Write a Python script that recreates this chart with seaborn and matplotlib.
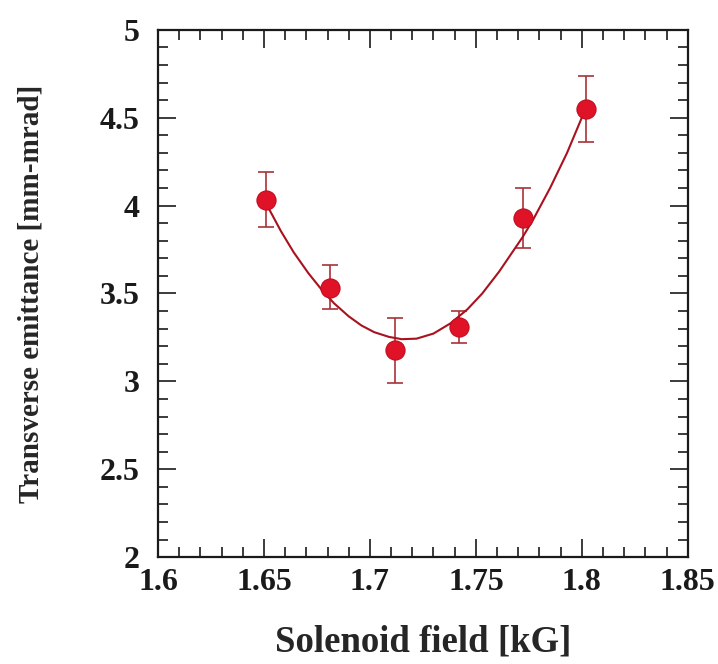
import matplotlib
matplotlib.use("Agg")
import matplotlib.pyplot as plt
from matplotlib.ticker import MultipleLocator
import seaborn as sns
import pandas as pd

# measured points
field = [1.651, 1.681, 1.712, 1.742, 1.772, 1.802]
emittance = [4.03, 3.53, 3.18, 3.31, 3.93, 4.55]
err_low = [3.88, 3.41, 2.99, 3.22, 3.76, 4.36]
err_high = [4.19, 3.66, 3.36, 3.40, 4.10, 4.74]

# fitted curve
fit_field = [1.651, 1.652, 1.658, 1.664, 1.671, 1.677, 1.683, 1.690, 1.696,
             1.702, 1.709, 1.715, 1.722, 1.730, 1.738, 1.746, 1.753, 1.761,
             1.772, 1.777, 1.785, 1.793, 1.801, 1.802]
fit_emit = [4.01, 3.99, 3.855, 3.735, 3.615, 3.525, 3.445, 3.37, 3.318,
            3.28, 3.253, 3.24, 3.243, 3.272, 3.33, 3.41, 3.50, 3.625,
            3.82, 3.92, 4.10, 4.30, 4.53, 4.56]

x_ticks = [1.6, 1.65, 1.7, 1.75, 1.8, 1.85]
x_tick_labels = ["1.6", "1.65", "1.7", "1.75", "1.8", "1.85"]
y_ticks = [2, 2.5, 3, 3.5, 4, 4.5, 5]
y_tick_labels = ["2", "2.5", "3", "3.5", "4", "4.5", "5"]

sns.set_style("ticks")
plt.rcParams["font.family"] = ["Liberation Serif", "DejaVu Serif"]
plt.rcParams["font.weight"] = "bold"

fig = plt.figure(figsize=(7.18, 6.64), dpi=100)
ax = fig.add_axes([0.22, 0.161, 0.738, 0.794])

pts = pd.DataFrame({"field": field, "emittance": emittance})
fit = pd.DataFrame({"field": fit_field, "emittance": fit_emit})

yerr = [[e - l for e, l in zip(emittance, err_low)],
        [h - e for e, h in zip(emittance, err_high)]]
ax.errorbar(field, emittance, yerr=yerr, fmt="none", ecolor="#a8323a",
            elinewidth=1.2, capsize=6, capthick=1.2, zorder=2)
sns.lineplot(data=fit, x="field", y="emittance", ax=ax, color="#a8121f",
             linewidth=1.5, sort=True, zorder=3)
sns.scatterplot(data=pts, x="field", y="emittance", ax=ax, color="#e01228",
                s=190, edgecolor="#c00d20", linewidth=0.8, zorder=4)

ax.set_xlim(1.6, 1.85)
ax.set_ylim(2, 5)
ax.set_xticks(x_ticks)
ax.set_xticklabels(x_tick_labels)
ax.set_yticks(y_ticks)
ax.set_yticklabels(y_tick_labels)
ax.xaxis.set_minor_locator(MultipleLocator(0.01))
ax.yaxis.set_minor_locator(MultipleLocator(0.1))
ax.tick_params(which="both", direction="in", top=True, right=True,
               width=1.2, colors="#1a1a1a")
ax.tick_params(which="major", length=13, labelsize=23)
ax.tick_params(axis="x", which="major", pad=8)
ax.tick_params(axis="y", which="major", pad=13)
ax.tick_params(which="minor", length=7)
for lab in ax.get_xticklabels() + ax.get_yticklabels():
    lab.set_fontweight("bold")
for sp in ax.spines.values():
    sp.set_linewidth(1.6)
    sp.set_color("#1a1a1a")

ax.set_xlabel("Solenoid field [kG]", fontsize=26.5, fontweight="bold", labelpad=20)
ax.set_ylabel("Transverse emittance [mm-mrad]", fontsize=21, fontweight="bold",
              labelpad=40)

fig.savefig("out.png", dpi=100)
